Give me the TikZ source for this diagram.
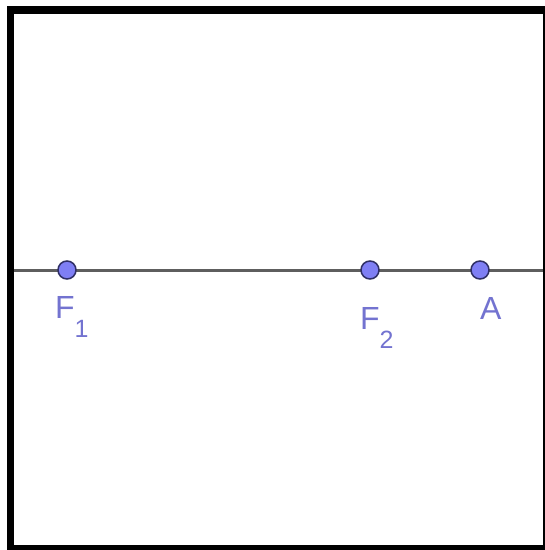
\documentclass[tikz,border=0pt]{standalone}
\usepackage{fontspec}
\setmainfont{Liberation Sans}
\definecolor{GGpoint}{HTML}{7F7FF5}
\definecolor{GGedge}{HTML}{2F2F66}
\definecolor{GGlabel}{HTML}{7373D0}
\definecolor{GGline}{HTML}{5E5E5E}
\tikzset{ggpt/.style={circle,fill=GGpoint,draw=GGedge,line width=1.5pt,
                      minimum size=18pt,inner sep=0pt},
         gglabel/.style={GGlabel,font=\fontsize{32}{32}\selectfont,
                         inner sep=0pt,anchor=base west}}
\newcommand{\ggsub}[1]{\raisebox{-19pt}{\fontsize{25}{25}\selectfont #1}}

\begin{document}
\begin{tikzpicture}[x=1pt,y=-1pt]
  \useasboundingbox (0,0) rectangle (545,550);
  % frame
  \fill[black] (7,6) rectangle (545,14);
  \fill[black] (7,6) rectangle (14,550);
  \fill[black] (7,545) rectangle (545,550);
  \fill[black] (543,6) rectangle (545,550);

  % axis line
  \coordinate (axisL) at (14,270);
  \coordinate (axisR) at (543,270);
  \draw[GGline,line width=3pt] (axisL) -- (axisR);

  % points
  \node[ggpt] (F1) at (67,270) {};
  \node[ggpt] (F2) at (370,270) {};
  \node[ggpt] (A)  at (480,270) {};

  % labels
  \node[gglabel] (labF1) at (55,318) {F\ggsub{1}};
  \node[gglabel] (labF2) at (360,329) {F\ggsub{2}};
  \node[gglabel] (labA)  at (480,319) {A};
\end{tikzpicture}
\end{document}
